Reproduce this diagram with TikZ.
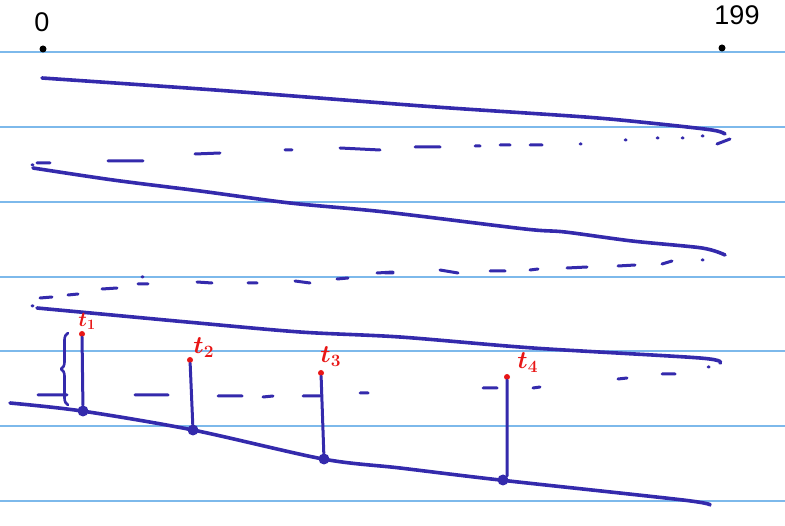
\documentclass[tikz,border=0pt]{standalone}
\usepackage{fontspec}
\newfontfamily\handfont{Liberation Sans}
\usetikzlibrary{positioning,decorations.pathreplacing}
\definecolor{inkblue}{RGB}{52,42,172}
\definecolor{rulecol}{RGB}{125,185,235}
\definecolor{inkred}{RGB}{232,22,22}
\tikzset{
  ruled/.style={rulecol, line width=1.4pt},
  ink/.style={inkblue, line width=3.6pt, line cap=round, line join=round},
  dashink/.style={inkblue, line width=3pt, line cap=round},
  enddot/.style={circle, fill=black, inner sep=0pt, minimum size=7pt},
  bluedot/.style={circle, fill=inkblue, inner sep=0pt, minimum size=11pt},
  reddot/.style={circle, fill=inkred, inner sep=0pt, minimum size=6pt},
  idxlabel/.style={inner sep=0pt, font=\handfont\fontsize{27}{27}\selectfont},
  tlabel/.style={inkred, inner sep=0pt, font=\boldmath\fontsize{26}{26}\selectfont}
}
\begin{document}
\begin{tikzpicture}[x=1pt,y=-1pt]
\useasboundingbox (0,0) rectangle (785,526);
% lines of the paper
\draw[ruled] (0,52) -- (785,52);
\draw[ruled] (0,127) -- (785,127);
\draw[ruled] (0,202) -- (785,202);
\draw[ruled] (0,277) -- (785,277);
\draw[ruled] (0,351) -- (785,351);
\draw[ruled] (0,426) -- (785,426);
\draw[ruled] (0,501) -- (785,501);
% first and last index
\node[enddot] (first) at (43,49) {};
\node[enddot] (last) at (722,48) {};
\node[idxlabel] (firstlbl) at (42,22) {0};
\node[idxlabel] (lastlbl) at (737,15) {199};
% the rows
\draw[ink] plot[smooth] coordinates {(42,78) (215,90) (370,102) (450,108) (585,117) (650,123) (712,130) (725,134)};
\draw[dashink] (37,163) -- (50,163) (108,161) -- (143,161) (195,154) -- (220,153)
  (285,150) -- (292,150) (340,148) -- (380,150) (415,147) -- (440,147)
  (475,146) -- (480,146) (500,145) -- (510,145) (530,145) -- (542,145)
  (580,144) -- (581,144) (625,140) -- (626,140) (657,138) -- (658,138)
  (682,138) -- (683,138) (702,136) -- (703,136) (717,144) -- (730,139);
\draw[ink] plot[smooth] coordinates {(33,168) (113,180) (200,191) (290,203) (385,212) (525,229) (565,232) (632,241) (702,248) (725,255)};
\draw[dashink] (702,260) -- (703,260) (662,264) -- (672,261) (618,266) -- (635,265)
  (567,268) -- (587,267) (530,270) -- (538,269) (490,271) -- (505,271)
  (440,270) -- (458,273) (385,273) -- (393,273) (377,273) -- (393,272)
  (337,279) -- (348,278) (295,281) -- (310,283) (248,283) -- (257,283)
  (197,282) -- (212,283) (138,284) -- (148,284) (142,277) -- (143,277)
  (102,289) -- (117,288) (68,295) -- (78,294) (40,298) -- (52,297)
  (32,306) -- (33,306) (32,165) -- (33,165);
\draw[ink] plot[smooth] coordinates {(37,308) (80,312) (187,322) (300,332) (400,337) (533,348) (700,358) (720,363)};
\draw[dashink] (38,395) -- (67,395) (135,395) -- (168,395) (218,396) -- (242,396)
  (263,397) -- (273,396) (303,396) -- (320,396) (360,393) -- (368,393)
  (483,388) -- (497,388) (533,388) -- (540,387) (618,379) -- (627,378)
  (662,374) -- (675,374) (708,367) -- (709,367);
\draw[ink] plot[smooth] coordinates {(10,403) (82,411) (193,430) (323,459) (400,468) (500,480) (683,500) (710,505)};
% sticks
\node[bluedot] (t1bot) at (83,411) {};
\node[reddot] (t1top) at (82,334) {};
\node[bluedot] (t2bot) at (193,430) {};
\node[reddot] (t2top) at (190,360) {};
\node[bluedot] (t3bot) at (324,459) {};
\node[reddot] (t3top) at (321,373) {};
\node[bluedot] (t4bot) at (503,480) {};
\node[reddot] (t4top) at (507,377) {};
\draw[ink, line width=3pt] (t1bot) -- (t1top);
\draw[ink, line width=3pt] (t2bot) -- (t2top);
\draw[ink, line width=3pt] (t3bot) -- (t3top);
\draw[ink, line width=3pt] (t4bot.north east) -- (t4top);
\node[tlabel, font=\boldmath\fontsize{20}{20}\selectfont, above right=2pt and -6pt of t1top] (t1lbl) {$t_1$};
\node[tlabel, above right=0pt and 1pt of t2top] (t2lbl) {$t_2$};
\node[tlabel, above right=4pt and -3pt of t3top] (t3lbl) {$t_3$};
\node[tlabel, above right=2pt and 8pt of t4top] (t4lbl) {$t_4$};
% brace
\draw[ink, line width=2.6pt, decorate, decoration={brace, amplitude=7pt}] (68,405) -- (68,333);
\end{tikzpicture}
\end{document}
